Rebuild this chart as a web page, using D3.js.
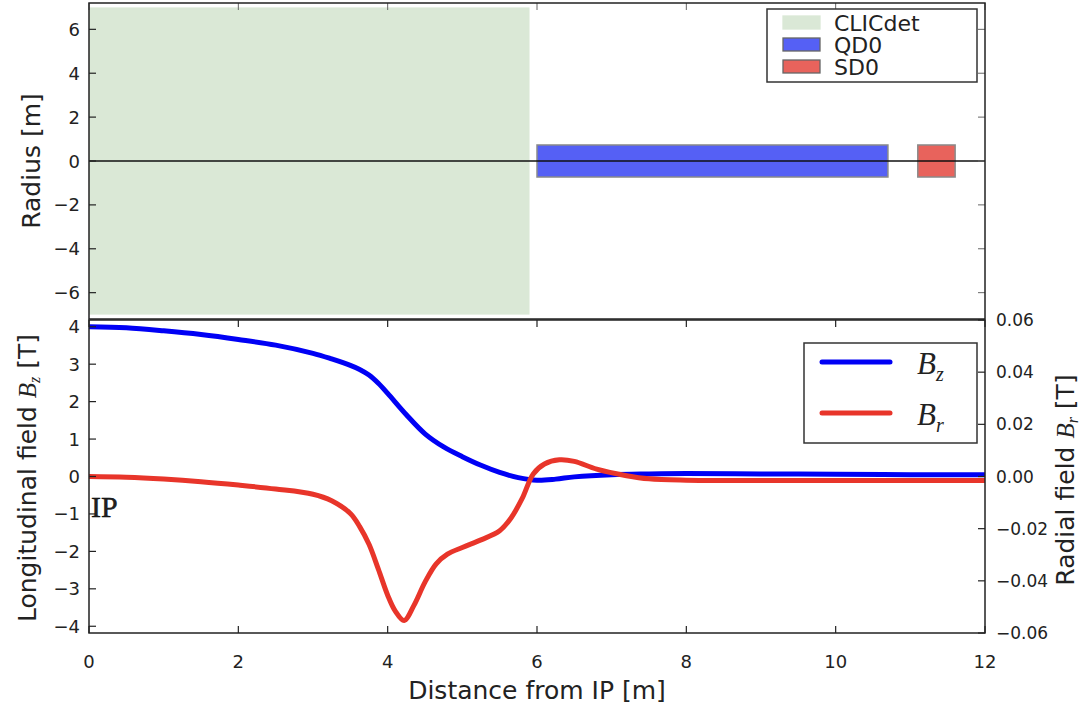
<!DOCTYPE html>
<html><head><meta charset="utf-8">
<script src="https://cdn.jsdelivr.net/npm/d3@7"></script>
<style>
body{margin:0;background:#fff;}
text{font-family:"DejaVu Sans",sans-serif;fill:#222;}
.serif{font-family:"Liberation Serif","Times New Roman",serif;}
</style></head>
<body><svg id="c" width="1084" height="711"></svg>
<script>
// ---- data ----
const elements = ["CLICdet","QD0","SD0"];
const elemStart = [0, 6.0, 11.1];
const elemEnd = [5.9, 10.7, 11.6];
const elemRadius = [7.0, 0.73, 0.73];
const elemColors = ["#dae8d6","#5560f5","#e8635c"];

const zBz = [0,0.5,1,1.5,2,2.5,3,3.25,3.5,3.625,3.75,3.875,4,4.25,4.5,4.75,5,5.25,5.5,5.75,6,6.25,6.5,7,7.5,8,9,10,11,12];
const Bz  = [4.0,3.97,3.89,3.79,3.66,3.51,3.29,3.14,2.97,2.86,2.71,2.49,2.22,1.65,1.14,0.79,0.53,0.30,0.11,-0.03,-0.1,-0.07,-0.01,0.05,0.07,0.08,0.07,0.06,0.05,0.05];
const zBr = [0,0.5,1,1.5,2,2.5,3,3.25,3.5,3.625,3.75,3.875,4,4.1,4.22,4.35,4.5,4.65,4.8,5,5.25,5.5,5.65,5.8,5.95,6.1,6.3,6.5,6.8,7.2,7.5,8,9,10,11,12];
const Br  = [0,-0.0003,-0.001,-0.002,-0.0033,-0.0048,-0.0068,-0.0093,-0.0142,-0.0192,-0.026,-0.0355,-0.0455,-0.0515,-0.0552,-0.0495,-0.0405,-0.0335,-0.0298,-0.0272,-0.0243,-0.0208,-0.016,-0.0085,0.001,0.0048,0.0064,0.0058,0.0028,0.0003,-0.0009,-0.0014,-0.0015,-0.0015,-0.0015,-0.0015];

const xTicks = [0,2,4,6,8,10,12];
const rTicks = [-6,-4,-2,0,2,4,6];
const bzTicks = [-4,-3,-2,-1,0,1,2,3,4];
const brTicks = [-0.06,-0.04,-0.02,0,0.02,0.04,0.06];

// ---- layout ----
const svg = d3.select("#c");
const L = 89, R = 985;
const x = d3.scaleLinear().domain([0,12]).range([L,R]);
const yTop = d3.scaleLinear().domain([-7.2,7.2]).range([319,3]);
const yBz = d3.scaleLinear().domain([-4.18,4.18]).range([633,320]);
const yBr = d3.scaleLinear().domain([-0.06,0.06]).range([633,320]);
const spine = "#222", tl = 7;

// ---- top panel ----
const topG = svg.append("g");
topG.selectAll("rect.el").data(elements).join("rect")
  .attr("x",(d,i)=>x(elemStart[i]))
  .attr("width",(d,i)=>x(elemEnd[i])-x(elemStart[i]))
  .attr("y",(d,i)=>yTop(elemRadius[i]))
  .attr("height",(d,i)=>yTop(-elemRadius[i])-yTop(elemRadius[i]))
  .attr("fill",(d,i)=>elemColors[i])
  .attr("stroke",(d,i)=>i===0?"none":"#8a8a8a")
  .attr("stroke-width",1.5);
topG.append("line").attr("x1",L).attr("x2",R).attr("y1",yTop(0)).attr("y2",yTop(0))
  .attr("stroke","#111").attr("stroke-width",1.4);

const tg = topG.append("g");
rTicks.forEach(v=>{
  tg.append("line").attr("x1",L).attr("x2",L+tl).attr("y1",yTop(v)).attr("y2",yTop(v)).attr("stroke",spine).attr("stroke-width",1.2);
  tg.append("line").attr("x1",R).attr("x2",R-tl).attr("y1",yTop(v)).attr("y2",yTop(v)).attr("stroke","#666").attr("stroke-width",1);
  tg.append("text").attr("x",80).attr("y",yTop(v)+6.5).attr("text-anchor","end").attr("font-size",18)
    .text(v<0?"\u2212"+(-v):String(v));
});
xTicks.forEach(v=>{
  tg.append("line").attr("x1",x(v)).attr("x2",x(v)).attr("y1",3).attr("y2",3+tl).attr("stroke","#666").attr("stroke-width",1);
});
topG.append("rect").attr("x",L).attr("y",3).attr("width",R-L).attr("height",316)
  .attr("fill","none").attr("stroke",spine).attr("stroke-width",1.5);
topG.append("text").attr("transform",`translate(40,${yTop(0)}) rotate(-90)`).attr("text-anchor","middle")
  .attr("font-size",25).text("Radius [m]");

// top legend
const lg = topG.append("g");
lg.append("rect").attr("x",767).attr("y",9).attr("width",210).attr("height",73)
  .attr("fill","#fff").attr("stroke","#333").attr("stroke-width",1.5);
elements.forEach((e,i)=>{
  const cy = 22.5 + i*22;
  lg.append("rect").attr("x",783).attr("y",cy-6.5).attr("width",37).attr("height",13)
    .attr("fill",elemColors[i]).attr("stroke",i===0?"#dae8d6":"#666").attr("stroke-width",1.3);
  lg.append("text").attr("x",834).attr("y",cy+8).attr("font-size",22).text(e);
});

// ---- bottom panel ----
const bot = svg.append("g");
const lineBz = d3.line().x((d,i)=>x(zBz[i])).y(d=>yBz(d)).curve(d3.curveCatmullRom.alpha(0.5));
const lineBr = d3.line().x((d,i)=>x(zBr[i])).y(d=>yBr(d)).curve(d3.curveCatmullRom.alpha(0.5));
bot.append("defs").append("clipPath").attr("id","clipB").append("rect")
  .attr("x",L).attr("y",320).attr("width",R-L).attr("height",313);
bot.append("path").datum(Bz).attr("d",lineBz).attr("fill","none").attr("stroke","#0000f5")
  .attr("stroke-width",5).attr("stroke-linejoin","round").attr("clip-path","url(#clipB)");
bot.append("path").datum(Br).attr("d",lineBr).attr("fill","none").attr("stroke","#e8352a")
  .attr("stroke-width",5).attr("stroke-linejoin","round").attr("clip-path","url(#clipB)");

const bg = bot.append("g");
bzTicks.forEach(v=>{
  bg.append("line").attr("x1",L).attr("x2",L+tl).attr("y1",yBz(v)).attr("y2",yBz(v)).attr("stroke",spine).attr("stroke-width",1.2);
  bg.append("text").attr("x",80).attr("y",yBz(v)+6.5).attr("text-anchor","end").attr("font-size",18)
    .text(v<0?"\u2212"+(-v):String(v));
});
brTicks.forEach(v=>{
  bg.append("line").attr("x1",R).attr("x2",R-tl).attr("y1",yBr(v)).attr("y2",yBr(v)).attr("stroke",spine).attr("stroke-width",1.2);
  bg.append("text").attr("x",996).attr("y",yBr(v)+6).attr("text-anchor","start").attr("font-size",17)
    .text(v<0?"\u2212"+(-v).toFixed(2):v.toFixed(2));
});
xTicks.forEach(v=>{
  bg.append("line").attr("x1",x(v)).attr("x2",x(v)).attr("y1",633).attr("y2",633-tl).attr("stroke",spine).attr("stroke-width",1.2);
  bg.append("line").attr("x1",x(v)).attr("x2",x(v)).attr("y1",320).attr("y2",320+tl).attr("stroke",spine).attr("stroke-width",1.2);
  bg.append("text").attr("x",x(v)).attr("y",668).attr("text-anchor","middle").attr("font-size",18).text(String(v));
});
bot.append("rect").attr("x",L).attr("y",320).attr("width",R-L).attr("height",313)
  .attr("fill","none").attr("stroke",spine).attr("stroke-width",1.5);

// axis labels
svg.append("text").attr("x",(L+R)/2).attr("y",699).attr("text-anchor","middle").attr("font-size",25)
  .text("Distance from IP [m]");
const ylab = svg.append("text").attr("transform",`translate(36,478) rotate(-90)`).attr("text-anchor","middle").attr("font-size",25);
ylab.append("tspan").text("Longitudinal field ");
ylab.append("tspan").attr("class","serif").attr("font-style","italic").text("B");
ylab.append("tspan").attr("class","serif").attr("font-style","italic").attr("font-size",16).attr("dy",4).text("z");
ylab.append("tspan").attr("dy",-4).text(" [T]");
const rlab = svg.append("text").attr("transform",`translate(1074,480) rotate(-90)`).attr("text-anchor","middle").attr("font-size",25);
rlab.append("tspan").text("Radial field ");
rlab.append("tspan").attr("class","serif").attr("font-style","italic").text("B");
rlab.append("tspan").attr("class","serif").attr("font-style","italic").attr("font-size",16).attr("dy",4).text("r");
rlab.append("tspan").attr("dy",-4).text(" [T]");

// IP label
svg.append("text").attr("class","serif").attr("x",91).attr("y",517).attr("font-size",30).attr("fill","#000")
  .attr("stroke","#000").attr("stroke-width",0.4).text("IP");

// bottom legend
const bl = svg.append("g");
bl.append("rect").attr("x",804).attr("y",343).attr("width",173).attr("height",100)
  .attr("fill","#fff").attr("stroke","#333").attr("stroke-width",1.5);
const legItems = [{sub:"z",c:"#0000f5"},{sub:"r",c:"#e8352a"}];
legItems.forEach((d,i)=>{
  const cy = 362 + i*51;
  bl.append("line").attr("x1",822).attr("x2",890).attr("y1",cy).attr("y2",cy)
    .attr("stroke",d.c).attr("stroke-width",5).attr("stroke-linecap","round");
  const t = bl.append("text").attr("class","serif").attr("x",917).attr("y",cy+12).attr("font-size",31).attr("font-style","italic");
  t.append("tspan").text("B");
  t.append("tspan").attr("font-size",20).attr("dy",7).text(d.sub);
});
</script></body></html>
